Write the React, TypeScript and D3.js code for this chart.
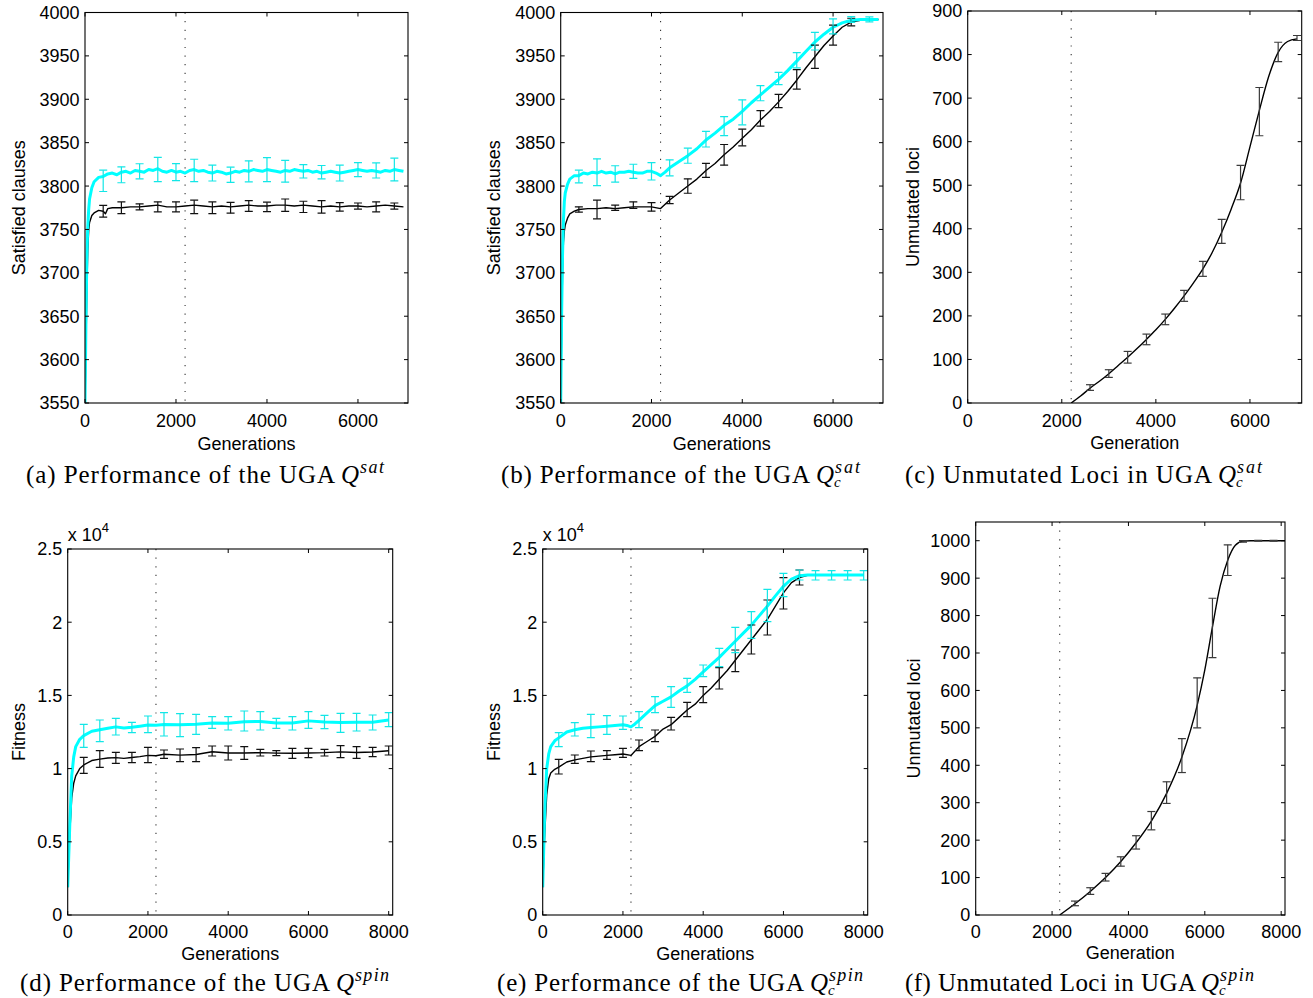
import React from "react";
import * as d3 from "d3";

type Pt = [number, number];
type Err = [number, number, number];

const SANS = "'Liberation Sans', Arial, Helvetica, sans-serif";
const SERIF = "'Liberation Serif', 'Times New Roman', serif";
const CYAN = "#00ffff";
const SWITCH_GEN = 2200;

// ---------- ticks ----------
const SAT_X_TICKS = [0, 2000, 4000, 6000];
const FIT_X_TICKS = [0, 2000, 4000, 6000, 8000];
const SAT_Y_TICKS = [3550, 3600, 3650, 3700, 3750, 3800, 3850, 3900, 3950, 4000];
const LOCI_C_Y_TICKS = [0, 100, 200, 300, 400, 500, 600, 700, 800, 900];
const FIT_Y_TICKS = [0, 5000, 10000, 15000, 20000, 25000];
const FIT_Y_LABELS = ["0", "0.5", "1", "1.5", "2", "2.5"];
const LOCI_F_Y_TICKS = [0, 100, 200, 300, 400, 500, 600, 700, 800, 900, 1000];

// ---------- (a) UGA Q^sat ----------
const satA_cyan: Pt[] = [
  [0, 3550], [20, 3640], [40, 3715], [60, 3752], [80, 3772], [100, 3785], [150, 3798], [200, 3805],
  [300, 3810], [400, 3811], [500, 3814], [600, 3815], [700, 3813], [800, 3816], [900, 3817], [1000, 3815],
  [1100, 3818], [1200, 3817], [1300, 3816], [1400, 3819], [1500, 3818], [1600, 3820], [1700, 3817],
  [1800, 3816], [1900, 3818], [2000, 3816], [2100, 3817], [2200, 3815], [2300, 3818], [2400, 3819],
  [2500, 3817], [2600, 3818], [2700, 3816], [2800, 3815], [2900, 3817], [3000, 3816], [3100, 3814],
  [3200, 3815], [3300, 3817], [3400, 3816], [3500, 3818], [3600, 3817], [3700, 3819], [3800, 3818],
  [3900, 3817], [4000, 3819], [4100, 3818], [4200, 3817], [4300, 3816], [4400, 3818], [4500, 3817],
  [4600, 3819], [4700, 3818], [4800, 3817], [4900, 3818], [5000, 3816], [5100, 3817], [5200, 3815],
  [5300, 3816], [5400, 3817], [5500, 3816], [5600, 3815], [5700, 3816], [5800, 3817], [5900, 3818],
  [6000, 3819], [6100, 3818], [6200, 3817], [6300, 3818], [6400, 3817], [6500, 3816], [6600, 3818],
  [6700, 3817], [6800, 3819], [6900, 3818], [7000, 3817],
];
const satA_black: Pt[] = [
  [0, 3550], [20, 3610], [40, 3680], [60, 3725], [80, 3748], [100, 3758], [150, 3766], [200, 3769],
  [300, 3772], [400, 3771], [450, 3768], [500, 3774], [600, 3775], [800, 3775], [1000, 3776],
  [1200, 3776], [1400, 3777], [1600, 3778], [1800, 3776], [2000, 3776], [2200, 3777], [2400, 3778],
  [2600, 3777], [2800, 3776], [3000, 3777], [3200, 3776], [3400, 3777], [3600, 3778], [3800, 3777],
  [4000, 3777], [4200, 3778], [4400, 3778], [4600, 3777], [4800, 3778], [5000, 3777], [5200, 3776],
  [5400, 3777], [5600, 3776], [5800, 3777], [6000, 3777], [6200, 3776], [6400, 3777], [6600, 3778],
  [6800, 3777], [7000, 3776],
];
const satA_cyanErr: Err[] = [
  [400, 3806, 12.3], [800, 3813, 9.2], [1200, 3817, 8.7], [1600, 3819, 14], [2000, 3816, 9.8],
  [2400, 3818, 12.9], [2800, 3815, 9.2], [3200, 3813, 8.8], [3600, 3817, 12.1], [4000, 3819, 13.8],
  [4400, 3817, 12.5], [4800, 3817, 7.7], [5200, 3816, 7.7], [5600, 3815, 9.2], [6000, 3819, 8.1],
  [6400, 3818, 8.7], [6800, 3819, 13.1],
];
const satA_blackErr: Err[] = [
  [400, 3771, 6.7], [800, 3775, 6.7], [1200, 3776, 3.5], [1600, 3776, 5.8], [2000, 3776, 5.8],
  [2400, 3776, 7.7], [2800, 3775, 6.7], [3200, 3775, 6.3], [3600, 3777, 6.2], [4000, 3776, 5.4],
  [4400, 3778, 7.1], [4800, 3776, 6.5], [5200, 3776, 7.1], [5600, 3776, 4.8], [6000, 3777, 3.5],
  [6400, 3776, 5.8], [6800, 3777, 3.5],
];

// ---------- (b) UGA Q_c^sat ----------
const satB_cyan: Pt[] = [
  [0, 3550], [20, 3650], [40, 3720], [60, 3760], [80, 3782], [100, 3792], [150, 3802], [200, 3808],
  [300, 3812], [400, 3812], [500, 3815], [600, 3814], [700, 3816], [800, 3815], [900, 3817], [1000, 3815],
  [1100, 3816], [1200, 3814], [1300, 3816], [1400, 3816], [1500, 3817], [1600, 3816], [1700, 3815],
  [1800, 3815], [1900, 3817], [2000, 3817], [2100, 3815], [2200, 3812], [2300, 3816], [2400, 3821],
  [2600, 3828], [2800, 3835], [3000, 3843], [3200, 3853], [3400, 3861], [3600, 3870], [3800, 3877],
  [4000, 3886], [4200, 3896], [4400, 3905], [4600, 3914], [4800, 3923], [5000, 3933], [5200, 3944],
  [5400, 3955], [5600, 3966], [5800, 3975], [6000, 3983], [6200, 3988], [6400, 3991], [6600, 3992],
  [6800, 3992], [7000, 3992],
];
const satB_black: Pt[] = [
  [0, 3550], [20, 3630], [40, 3700], [60, 3735], [80, 3748], [100, 3755], [150, 3763], [200, 3768],
  [300, 3771], [400, 3773], [600, 3774], [800, 3774], [1000, 3775], [1200, 3774], [1400, 3775],
  [1600, 3776], [1800, 3776], [2000, 3776], [2200, 3774], [2400, 3784], [2600, 3792], [2800, 3800],
  [3000, 3808], [3200, 3818], [3400, 3826], [3600, 3836], [3800, 3845], [4000, 3855], [4200, 3865],
  [4400, 3876], [4600, 3886], [4800, 3897], [5000, 3909], [5200, 3922], [5400, 3936], [5600, 3949],
  [5800, 3962], [6000, 3973], [6200, 3983], [6400, 3989], [6600, 3991], [6800, 3992], [7000, 3992],
];
const satB_cyanErr: Err[] = [
  [400, 3811, 7.3], [800, 3816, 15.4], [1200, 3814, 9.4], [1600, 3817, 8.1], [2000, 3817, 10],
  [2400, 3821, 9.2], [2800, 3835, 8.7], [3200, 3854, 9], [3600, 3869, 11], [4000, 3885, 14.4],
  [4400, 3907, 8.7], [4800, 3924, 7.1], [5200, 3945, 8.7], [5600, 3967, 10.2], [6000, 3984, 8.7],
  [6400, 3992, 3.3], [6800, 3992, 2.9],
];
const satB_blackErr: Err[] = [
  [400, 3773, 3.1], [800, 3773, 10.8], [1200, 3775, 3.1], [1600, 3778, 3.8], [2000, 3776, 5],
  [2400, 3784, 4.2], [2800, 3800, 8.3], [3200, 3818, 8.1], [3600, 3836, 11.9], [4000, 3856, 9.6],
  [4400, 3878, 9], [4800, 3898, 7.7], [5200, 3923, 11.2], [5600, 3949, 13.5], [6000, 3974, 11.5],
  [6400, 3989, 4.4],
];

// ---------- (c) unmutated loci, Q_c^sat ----------
const lociC: Pt[] = [
  [2200, 0], [2400, 16], [2600, 34], [2800, 50], [3000, 67], [3200, 86], [3400, 105], [3600, 125],
  [3800, 146], [4000, 168], [4200, 192], [4400, 218], [4600, 246], [4800, 276], [5000, 308],
  [5200, 346], [5400, 392], [5600, 445], [5800, 505], [6000, 588], [6200, 672], [6400, 750],
  [6600, 805], [6800, 830], [7000, 836],
];
const lociC_err: Err[] = [
  [2600, 35.5, 6.5], [3000, 67.6, 8.8], [3400, 105, 13.4], [3800, 146, 12.2], [4200, 192, 12.2],
  [4600, 246, 12.6], [5000, 308, 17.2], [5400, 394, 27.5], [5800, 506, 39.4], [6200, 669, 55.4],
  [6600, 806, 22.2], [7000, 838, 5.7],
];

// ---------- (d) UGA Q^spin ----------
const fitD_cyan: Pt[] = [
  [0, 1900], [50, 6000], [100, 9500], [150, 10800], [200, 11500], [300, 12000], [400, 12250],
  [600, 12550], [800, 12650], [1000, 12750], [1200, 12850], [1400, 12780], [1600, 12830],
  [1800, 12900], [2000, 12980], [2200, 12960], [2400, 13020], [2800, 12990], [3200, 13030],
  [3600, 13120], [4000, 13100], [4400, 13200], [4800, 13220], [5200, 13120], [5600, 13120],
  [6000, 13260], [6400, 13180], [6800, 13150], [7200, 13170], [7600, 13160], [8000, 13320],
];
const fitD_black: Pt[] = [
  [0, 1900], [50, 5500], [100, 8000], [150, 9000], [200, 9500], [300, 10000], [400, 10250],
  [600, 10550], [800, 10650], [1000, 10720], [1200, 10750], [1400, 10700], [1600, 10760],
  [1800, 10820], [2000, 10900], [2200, 10880], [2400, 10980], [2800, 10920], [3200, 10960],
  [3600, 11150], [4000, 11070], [4400, 11070], [4800, 11090], [5200, 11060], [5600, 11050],
  [6000, 11070], [6400, 11090], [6800, 11140], [7200, 11100], [7600, 11130], [8000, 11220],
];
const fitD_cyanErr: Err[] = [
  [400, 12238, 785], [800, 12580, 740], [1200, 12864, 569], [1600, 12807, 353], [2000, 13023, 569],
  [2400, 13023, 797], [2800, 12966, 785], [3200, 13023, 683], [3600, 13148, 398], [4000, 13091, 455],
  [4400, 13251, 683], [4800, 13262, 626], [5200, 13091, 341], [5600, 13091, 455], [6000, 13319, 569],
  [6400, 13182, 455], [6800, 13125, 649], [7200, 13171, 603], [7600, 13148, 512], [8000, 13341, 478],
];
const fitD_blackErr: Err[] = [
  [400, 10223, 546], [800, 10656, 569], [1200, 10736, 375], [1600, 10758, 353], [2000, 10929, 524],
  [2400, 10986, 285], [2800, 10906, 433], [3200, 10952, 478], [3600, 11202, 341], [4000, 11066, 478],
  [4400, 11066, 433], [4800, 11089, 228], [5200, 11055, 171], [5600, 11043, 341], [6000, 11066, 319],
  [6400, 11089, 228], [6800, 11157, 410], [7200, 11100, 398], [7600, 11134, 319], [8000, 11236, 307],
];

// ---------- (e) UGA Q_c^spin ----------
const fitE_cyan: Pt[] = [
  [0, 1900], [50, 7000], [100, 10000], [150, 11000], [200, 11500], [300, 11900], [400, 12100],
  [600, 12500], [800, 12650], [1000, 12750], [1200, 12800], [1400, 12850], [1600, 12900],
  [1800, 12950], [2000, 13000], [2100, 12950], [2200, 12850], [2300, 13050], [2400, 13300],
  [2600, 13800], [2800, 14300], [3000, 14600], [3200, 14900], [3400, 15300], [3600, 15650],
  [3800, 16100], [4000, 16600], [4200, 17100], [4400, 17600], [4600, 18150], [4800, 18700],
  [5000, 19250], [5200, 19800], [5400, 20450], [5600, 21100], [5800, 21800], [6000, 22450],
  [6200, 22950], [6400, 23180], [6600, 23220], [7000, 23220], [8000, 23220],
];
const fitE_black: Pt[] = [
  [0, 1900], [50, 5500], [100, 8200], [150, 9300], [200, 9700], [300, 9950], [400, 10100],
  [600, 10450], [800, 10600], [1000, 10700], [1200, 10800], [1400, 10850], [1600, 10900],
  [1800, 10950], [2000, 11000], [2200, 10900], [2400, 11500], [2600, 11850], [2800, 12200],
  [3000, 12700], [3200, 13000], [3400, 13500], [3600, 14000], [3800, 14400], [4000, 15000],
  [4200, 15500], [4400, 16100], [4600, 16700], [4800, 17400], [5000, 18100], [5200, 18800],
  [5400, 19500], [5600, 20200], [5800, 21100], [6000, 22000], [6200, 22700], [6400, 23050],
  [6600, 23200], [7000, 23220], [8000, 23220],
];
const fitE_cyanErr: Err[] = [
  [400, 11976, 478], [800, 12682, 455], [1200, 12910, 797], [1600, 12978, 637], [2000, 13137, 455],
  [2400, 13342, 546], [2800, 14367, 546], [3200, 14890, 706], [3600, 15688, 478], [4000, 16678, 398],
  [4400, 17589, 626], [4800, 18784, 865], [5200, 19809, 911], [5600, 21141, 1104], [6000, 22541, 797],
  [6400, 23224, 341], [6800, 23201, 319], [7200, 23201, 319], [7600, 23201, 319], [8000, 23201, 319],
];
const fitE_blackErr: Err[] = [
  [400, 10132, 501], [800, 10644, 285], [1200, 10838, 364], [1600, 10929, 296], [2000, 11077, 307],
  [2400, 11589, 364], [2800, 12238, 398], [3200, 13069, 433], [3600, 14037, 490], [4000, 15050, 546],
  [4400, 16166, 728], [4800, 17361, 740], [5200, 18818, 990], [5600, 20321, 1195], [6000, 21971, 1070],
  [6400, 23053, 512],
];

// ---------- (f) unmutated loci, Q_c^spin ----------
const lociF: Pt[] = [
  [2200, 0], [2600, 30], [3000, 63], [3400, 100], [3800, 143], [4200, 193], [4600, 251],
  [5000, 325], [5400, 422], [5800, 560], [6000, 655], [6200, 770], [6400, 878], [6600, 948],
  [6800, 988], [7000, 999], [7200, 1000], [8100, 1000],
];
const lociF_err: Err[] = [
  [2600, 31, 6.2], [3000, 64, 8.9], [3400, 101, 10.2], [3800, 143, 12.5], [4200, 194, 17.8],
  [4600, 252, 24.5], [5000, 327, 28.9], [5400, 426, 45.4], [5800, 567, 66.8], [6200, 767, 79.3],
  [6600, 948, 41], [7000, 998, 2], [7400, 1000, 1], [7800, 1000, 1],
];

interface Series {
  data: Pt[];
  err: Err[];
  color: string;
  errColor: string;
  width: number;
  smooth?: boolean;
}
interface Caption {
  label: string;
  x: number;
  width: number;
  qx: number;
  sup: string;
  supWidth: number;
  sub: boolean;
  baseline: number;
}
interface PanelCfg {
  left: number; right: number; top: number; bottom: number;
  xDomain: [number, number]; yDomain: [number, number];
  xTicks: number[]; yTicks: number[]; yTickLabels?: string[];
  yLabel: string; yLabelX: number; xLabel: string;
  xTickBaseline: number; xLabelBaseline: number;
  exponent?: boolean;
  series: Series[];
  caption: Caption;
}

const blackS = (data: Pt[], err: Err[], smooth = false, errColor = "#111"): Series => ({ data, err, color: "#000", errColor, width: 1.4, smooth });
const cyanS = (data: Pt[], err: Err[]): Series => ({ data, err, color: CYAN, errColor: "#13e6e6", width: 3 });

const PANELS: PanelCfg[] = [
  {
    left: 85, right: 408, top: 12.5, bottom: 403, xDomain: [0, 7100], yDomain: [3550, 4000],
    xTicks: SAT_X_TICKS, yTicks: SAT_Y_TICKS, yLabel: "Satisfied clauses", yLabelX: 25, xLabel: "Generations",
    xTickBaseline: 427, xLabelBaseline: 450,
    series: [blackS(satA_black, satA_blackErr), cyanS(satA_cyan, satA_cyanErr)],
    caption: { label: "(a) Performance of the UGA", x: 26, width: 309, qx: 341, sup: "sat", supWidth: 24, sub: false, baseline: 483 },
  },
  {
    left: 560.7, right: 883, top: 12.5, bottom: 403, xDomain: [0, 7100], yDomain: [3550, 4000],
    xTicks: SAT_X_TICKS, yTicks: SAT_Y_TICKS, yLabel: "Satisfied clauses", yLabelX: 500, xLabel: "Generations",
    xTickBaseline: 427, xLabelBaseline: 450,
    series: [blackS(satB_black, satB_blackErr), cyanS(satB_cyan, satB_cyanErr)],
    caption: { label: "(b) Performance of the UGA", x: 501, width: 309, qx: 816, sup: "sat", supWidth: 25, sub: true, baseline: 483 },
  },
  {
    left: 967.7, right: 1301.7, top: 11, bottom: 403, xDomain: [0, 7100], yDomain: [0, 900],
    xTicks: SAT_X_TICKS, yTicks: LOCI_C_Y_TICKS, yLabel: "Unmutated loci", yLabelX: 919, xLabel: "Generation",
    xTickBaseline: 427, xLabelBaseline: 449,
    series: [blackS(lociC, lociC_err, true, "#3a3a3a")],
    caption: { label: "(c) Unmutated Loci in UGA", x: 905, width: 307, qx: 1218, sup: "sat", supWidth: 25, sub: true, baseline: 483 },
  },
  {
    left: 67.7, right: 392.7, top: 549, bottom: 915, xDomain: [0, 8100], yDomain: [0, 25000],
    xTicks: FIT_X_TICKS, yTicks: FIT_Y_TICKS, yTickLabels: FIT_Y_LABELS, yLabel: "Fitness", yLabelX: 25, xLabel: "Generations",
    xTickBaseline: 938, xLabelBaseline: 960, exponent: true,
    series: [blackS(fitD_black, fitD_blackErr), cyanS(fitD_cyan, fitD_cyanErr)],
    caption: { label: "(d) Performance of the UGA", x: 20, width: 310, qx: 336, sup: "spin", supWidth: 34, sub: false, baseline: 991 },
  },
  {
    left: 542.7, right: 867.7, top: 549, bottom: 915, xDomain: [0, 8100], yDomain: [0, 25000],
    xTicks: FIT_X_TICKS, yTicks: FIT_Y_TICKS, yTickLabels: FIT_Y_LABELS, yLabel: "Fitness", yLabelX: 500, xLabel: "Generations",
    xTickBaseline: 938, xLabelBaseline: 960, exponent: true,
    series: [blackS(fitE_black, fitE_blackErr), cyanS(fitE_cyan, fitE_cyanErr)],
    caption: { label: "(e) Performance of the UGA", x: 497, width: 307, qx: 810, sup: "spin", supWidth: 34, sub: true, baseline: 991 },
  },
  {
    left: 975.7, right: 1285, top: 522, bottom: 915, xDomain: [0, 8100], yDomain: [0, 1050],
    xTicks: FIT_X_TICKS, yTicks: LOCI_F_Y_TICKS, yLabel: "Unmutated loci", yLabelX: 920, xLabel: "Generation",
    xTickBaseline: 938, xLabelBaseline: 959,
    series: [blackS(lociF, lociF_err, true, "#3a3a3a")],
    caption: { label: "(f) Unmutated Loci in UGA", x: 905, width: 291, qx: 1201, sup: "spin", supWidth: 34, sub: true, baseline: 991 },
  },
];

function Panel({ p, idx }: { p: PanelCfg; idx: number }) {
  const x = d3.scaleLinear().domain(p.xDomain).range([p.left, p.right]);
  const y = d3.scaleLinear().domain(p.yDomain).range([p.bottom, p.top]);
  const clipId = `plotclip-${idx}`;
  const TL = 4;
  const CAP = 4;
  const yLabels = p.yTickLabels ?? p.yTicks.map((v) => String(v));
  const cy = (p.top + p.bottom) / 2;
  const cx = (p.left + p.right) / 2;
  const c = p.caption;
  return (
    <g>
      <defs>
        <clipPath id={clipId}>
          <rect x={p.left} y={p.top} width={p.right - p.left} height={p.bottom - p.top} />
        </clipPath>
      </defs>
      <line x1={x(SWITCH_GEN)} x2={x(SWITCH_GEN)} y1={p.top} y2={p.bottom} stroke="#333" strokeWidth={1.1} strokeDasharray="1.2 7.4" />
      <g clipPath={`url(#${clipId})`}>
        {p.series.map((s, i) => {
          const gen = d3.line<Pt>().x((d) => x(d[0])).y((d) => y(d[1])).curve(s.smooth ? d3.curveMonotoneX : d3.curveLinear);
          return <path key={`l${i}`} d={gen(s.data) || ""} fill="none" stroke={s.color} strokeWidth={s.width} strokeLinejoin="round" />;
        })}
        {p.series.map((s, i) => (
          <g key={`e${i}`} stroke={s.errColor} strokeWidth={1.2} fill="none">
            {s.err.map(([g, m, h], j) => {
              const xx = x(g), y1 = y(m - h), y2 = y(m + h);
              return (
                <g key={j}>
                  <line x1={xx} x2={xx} y1={y1} y2={y2} />
                  <line x1={xx - CAP} x2={xx + CAP} y1={y1} y2={y1} />
                  <line x1={xx - CAP} x2={xx + CAP} y1={y2} y2={y2} />
                </g>
              );
            })}
          </g>
        ))}
      </g>
      <rect x={p.left} y={p.top} width={p.right - p.left} height={p.bottom - p.top} fill="none" stroke="#000" strokeWidth={1.1} />
      <g stroke="#000" strokeWidth={1}>
        {p.xTicks.map((t) => (
          <g key={`xt${t}`}>
            <line x1={x(t)} x2={x(t)} y1={p.bottom} y2={p.bottom - TL} />
            <line x1={x(t)} x2={x(t)} y1={p.top} y2={p.top + TL} />
          </g>
        ))}
        {p.yTicks.map((t) => (
          <g key={`yt${t}`}>
            <line x1={p.left} x2={p.left + TL} y1={y(t)} y2={y(t)} />
            <line x1={p.right} x2={p.right - TL} y1={y(t)} y2={y(t)} />
          </g>
        ))}
      </g>
      <g fontFamily={SANS} fontSize={18} fill="#000">
        {p.xTicks.map((t) => (
          <text key={`xl${t}`} x={x(t)} y={p.xTickBaseline} textAnchor="middle">{String(t)}</text>
        ))}
        {p.yTicks.map((t, i) => (
          <text key={`yl${t}`} x={p.left - 5.5} y={y(t)} dy="0.36em" textAnchor="end">{yLabels[i]}</text>
        ))}
        <text x={cx} y={p.xLabelBaseline} textAnchor="middle">{p.xLabel}</text>
        <text transform={`translate(${p.yLabelX},${cy}) rotate(-90)`} textAnchor="middle">{p.yLabel}</text>
        {p.exponent && (
          <text x={p.left} y={p.top - 8}>
            x 10<tspan fontSize={13} dy={-9}>4</tspan>
          </text>
        )}
      </g>
      <g fontFamily={SERIF} fill="#000">
        <text x={c.x} y={c.baseline} fontSize={25} textLength={c.width} lengthAdjust="spacing">{c.label}</text>
        <text x={c.qx} y={c.baseline} fontSize={25} fontStyle="italic">
          Q
          <tspan x={c.qx + 19} y={c.baseline - 10} fontSize={18} textLength={c.supWidth} lengthAdjust="spacing">{c.sup}</tspan>
          {c.sub && (
            <tspan x={c.qx + 18} y={c.baseline + 4} fontSize={15}>c</tspan>
          )}
        </text>
      </g>
    </g>
  );
}

export default function App() {
  return (
    <svg
      width={1313}
      height={998}
      viewBox="0 0 1313 998"
      style={{ position: "absolute", left: 0, top: 0, background: "#fff" }}
    >
      <rect x={0} y={0} width={1313} height={998} fill="#fff" />
      {PANELS.map((p, i) => (
        <Panel key={i} p={p} idx={i} />
      ))}
    </svg>
  );
}
